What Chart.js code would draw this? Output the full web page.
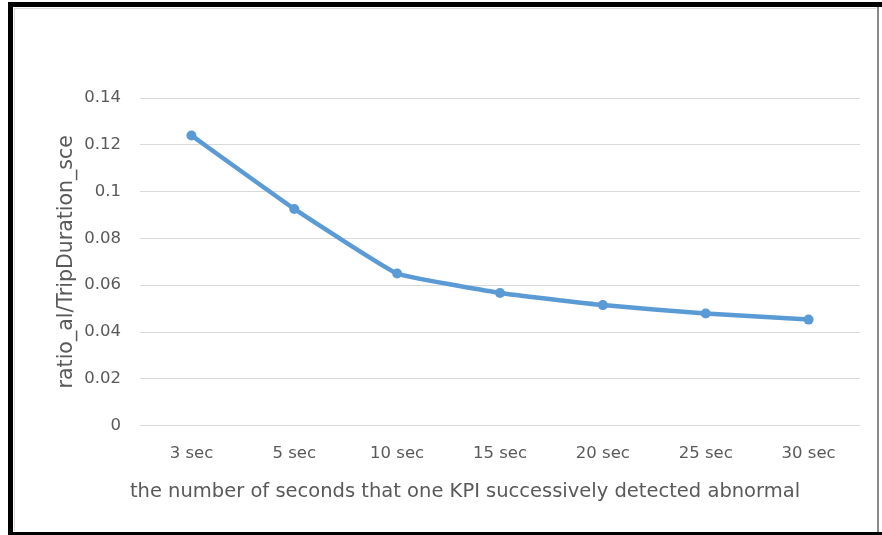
<!DOCTYPE html>
<html>
<head>
<meta charset="utf-8">
<script src="https://cdn.jsdelivr.net/npm/chart.js@4"></script>
<style>
  html, body { margin: 0; padding: 0; background: #fff; }
  #wrap { position: relative; width: 882px; height: 535px; overflow: hidden; }
  /* black frame around the screenshot */
  #frame {
    position: absolute; left: 8px; top: 2px; width: 871px; height: 533px;
    border-top: 5px solid #000; border-left: 5px solid #000;
    border-right: 2px solid #8a8a8a; border-bottom: 3px solid #000;
    box-sizing: border-box;
  }
  #inner {
    position: absolute; left: 14px; top: 8px; right: 6px; bottom: 4px;
    border-top: 1px solid #dcdcdc; border-left: 1px solid #dcdcdc;
  }
  #bottomBar { position: absolute; left: 8px; right: 0; bottom: 0; height: 3px; background: #000; }
  #topBar { position: absolute; left: 8px; right: 0; top: 2px; height: 5px; background: #000; }
  canvas { position: absolute; left: 0; top: 0; }
</style>
</head>
<body>
<div id="wrap">
  <div id="frame"></div>
  <div id="inner"></div>
  <div id="topBar"></div>
  <div id="bottomBar"></div>
  <canvas id="chart" width="882" height="535"></canvas>
</div>
<script>
// categories and values
const categories = ['3 sec', '5 sec', '10 sec', '15 sec', '20 sec', '25 sec', '30 sec'];
const ratios = [0.124, 0.0926, 0.065, 0.0567, 0.0515, 0.0479, 0.0453];

const yTitle = 'ratio_al/TripDuration_sce';
const xTitle = 'the number of seconds that one KPI successively detected abnormal';

const TEXT_GRAY = '#595959';
const GRID_GRAY = '#d9d9d9';
const LINE_BLUE = '#5b9bd5';
const FONT = 'DejaVu Sans';

new Chart(document.getElementById('chart'), {
    type: 'line',
    data: {
        labels: categories,
        datasets: [{
            data: ratios,
            borderColor: LINE_BLUE,
            backgroundColor: LINE_BLUE,
            borderWidth: 4.5,
            pointRadius: 5,
            pointBorderWidth: 0,
            tension: 0.1,
            fill: false,
        }],
    },
    options: {
        responsive: false,
        animation: false,
        layout: { padding: { left: 70, right: 22, top: 98, bottom: 31 } },
        plugins: {
            legend: { display: false },
            tooltip: { enabled: false },
            // chart title at the bottom stands in for the x axis title,
            // so it can be centred on the whole chart like the original
            title: {
                display: true,
                position: 'bottom',
                text: xTitle,
                color: TEXT_GRAY,
                font: { family: FONT, size: 19.5, weight: 'normal' },
                padding: { top: 0, bottom: 0 },
            },
        },
        scales: {
            x: {
                offset: true,
                grid: { display: false, drawTicks: false },
                border: { display: false },
                ticks: {
                    color: TEXT_GRAY,
                    font: { family: FONT, size: 16.5 },
                    padding: 18,
                    maxRotation: 0,
                },
                afterFit: function(scale) { scale.height = 55; },
            },
            y: {
                min: 0,
                max: 0.14,
                grid: { color: GRID_GRAY, lineWidth: 1, drawTicks: false },
                border: { display: false },
                ticks: {
                    stepSize: 0.02,
                    color: TEXT_GRAY,
                    font: { family: FONT, size: 16.5 },
                    padding: 19,
                    callback: function(v) { return String(Number(v.toFixed(2))); },
                },
                title: {
                    display: true,
                    text: yTitle,
                    color: TEXT_GRAY,
                    font: { family: FONT, size: 20.5 },
                    padding: { top: -16, bottom: 0 },
                },
                afterFit: function(scale) { scale.width = 70; },
            },
        },
    },
});
</script>
</body>
</html>
